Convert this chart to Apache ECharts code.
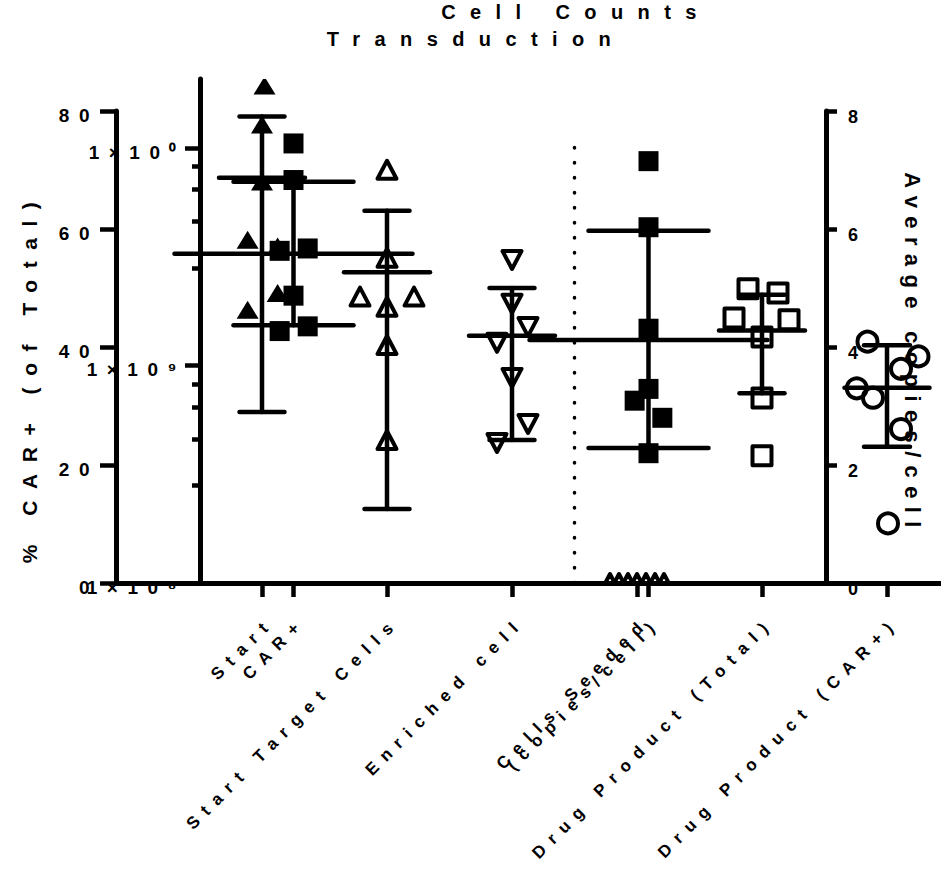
<!DOCTYPE html>
<html>
<head>
<meta charset="utf-8">
<title>Cell Counts / Transduction</title>
<script src="https://cdn.jsdelivr.net/npm/echarts@6.0.0/dist/echarts.min.js"></script>
<style>
  html, body { margin: 0; padding: 0; background: #fff; }
  #chart { width: 941px; height: 874px; }
  /* wide tracking on every label, as in the exported figure */
  #chart text { letter-spacing: 0.5em; }
  #chart text[style*="20px"] { letter-spacing: 0.72em; }
  #chart text[style*="21px"] { letter-spacing: 0.55em; }
  #chart text[style*="22px"] { letter-spacing: 0.38em; }
</style>
</head>
<body>
<div id="chart"></div>
<script>
// ---- categories ----
const stageLabels = ['Start', 'Start Target Cells', 'Enriched cell', 'Cells Seeded', 'Drug Product (Total)', 'Drug Product (CAR+)'];
const transLabels = ['CAR+', '(copies/cell)'];

// ---- axis ticks ----
const countTickValues = [1e8, 1e9, 1e10];
const countTickLabels = ['1×10⁸', '1×10⁹', '1×10⁰'];
const countMinorTicks = [2.8e8, 4.6e8, 6.45e8, 8.2e8, 2.8e9, 4.6e9, 6.45e9, 8.2e9];

// ---- cell counts (cells) ----
const startCounts    = [1.93e10, 1.28e10, 7.0e9, 3.78e9, 3.52e9, 2.15e9, 1.80e9];
const startSpread    = [0.02, 0, 0, -0.115, 0.125, 0.125, -0.115];
const targetCounts   = [7.92e9, 3.12e9, 2.07e9, 1.86e9, 2.07e9, 1.24e9, 4.54e8];
const targetSpread   = [0, 0, -0.216, 0, 0.216, 0, 0];
const enrichedCounts = [3.05e9, 1.92e9, 1.50e9, 1.27e9, 8.76e8, 5.38e8, 4.40e8];
const enrichedSpread = [0, 0, 0.128, -0.12, 0, 0.128, -0.12];
const seededCarPct   = [0, 0, 0, 0, 0, 0, 0];
const seededSpread   = [-0.216, -0.144, -0.072, 0, 0.072, 0.144, 0.216];
const productCounts  = [2.25e9, 2.15e9, 1.65e9, 1.62e9, 1.35e9, 7.09e8, 3.84e8];
const productSpread  = [-0.112, 0.128, -0.224, 0.216, 0, 0, 0];

// mean and SD limits per stage (null where no bar is drawn)
const countMean = [7.28e9, 2.68e9, 1.37e9, null, 1.445e9];
const countLow  = [6.1e8, 2.19e8, 4.54e8, null, 7.45e8];
const countHigh = [1.393e10, 5.13e9, 2.265e9, null, 2.11e9];

// ---- vector copies per cell, drug product ----
const copiesPerCell = [4.09, 3.84, 3.63, 3.30, 3.14, 2.61, 1.01];
const copiesSpread  = [-0.156, 0.252, 0.112, -0.242, -0.112, 0.112, 0.008];
const copiesMid = [3.31], copiesLow = [2.31], copiesHigh = [4.03];

// ---- transduction, % CAR+ ----
const carStartPct   = [74.5, 68.3, 56.3, 56.7, 48.7, 42.7, 43.5];
const carStartSpread = [0, 0, -0.039, 0.04, 0, -0.039, 0.04];
const carSeededPct  = [71.5, 60.3, 43.1, 32.9, 30.9, 28.0, 22.0];
const carSeededSpread = [0, 0, 0, 0, -0.039, 0.039, 0];
const carMean = [55.8, 41.2];
const carLow  = [43.7, 22.9];
const carHigh = [68.0, 59.7];

// ---- styling / layout ----
const FONT = "'Liberation Sans', Arial, sans-serif";
const INK = '#000';
const BASE_BOTTOM = 291;            // shared baseline, measured from the bottom edge
const TRANS_TOP = 111, COUNT_TOP = 79;
const FULL_H = 874;
const transH = FULL_H - BASE_BOTTOM - TRANS_TOP;
const countH = FULL_H - BASE_BOTTOM - COUNT_TOP;

function marker(kind, x, y) {
  const solid = { fill: INK, stroke: null };
  const open = { fill: 'none', stroke: INK, lineWidth: 4, lineJoin: 'round' };
  switch (kind) {
    case 'triFill':
      return { type: 'polygon', shape: { points: [[x, y - 9], [x + 11, y + 9], [x - 11, y + 9]] }, style: solid };
    case 'triOpen':
      return { type: 'polygon', shape: { points: [[x, y - 9], [x + 9.5, y + 9], [x - 9.5, y + 9]] }, style: open };
    case 'triDownOpen':
      return { type: 'polygon', shape: { points: [[x, y + 9], [x + 9.5, y - 9], [x - 9.5, y - 9]] }, style: open };
    case 'squareFill':
      return { type: 'rect', shape: { x: x - 10, y: y - 10, width: 20, height: 20 }, style: solid };
    case 'squareOpen':
      return { type: 'rect', shape: { x: x - 9.5, y: y - 9.5, width: 19, height: 19 }, style: open };
    default:
      return { type: 'circle', shape: { cx: x, cy: y, r: 10 }, style: open };
  }
}

function pointSeries(name, kind, xAxisIndex, yAxisIndex, cat, values, spread) {
  return {
    name, type: 'custom', xAxisIndex, yAxisIndex, clip: true, z: 3,
    data: values.map((v, i) => [cat + spread[i], v]),
    renderItem(params, api) {
      const p = api.coord([api.value(0), api.value(1)]);
      return marker(kind, p[0], p[1]);
    }
  };
}

function errorBarSeries(name, xAxisIndex, yAxisIndex, rows, capHalf, meanHalf) {
  const seg = (x1, y1, x2, y2) => ({
    type: 'line', shape: { x1, y1, x2, y2 },
    style: { stroke: INK, lineWidth: 4.5, lineCap: 'round' }
  });
  return {
    name, type: 'custom', xAxisIndex, yAxisIndex, clip: true, z: 4,
    data: rows,
    renderItem(params, api) {
      const x = api.value(0);
      const m = api.coord([x, api.value(1)]);
      const lo = api.coord([x, api.value(2)]);
      const hi = api.coord([x, api.value(3)]);
      return {
        type: 'group',
        children: [
          seg(lo[0], lo[1], hi[0], hi[1]),
          seg(lo[0] - capHalf, lo[1], lo[0] + capHalf, lo[1]),
          seg(hi[0] - capHalf, hi[1], hi[0] + capHalf, hi[1]),
          seg(m[0] - meanHalf, m[1], m[0] + meanHalf, m[1])
        ]
      };
    }
  };
}

const countRows = countMean
  .map((m, i) => [i, m, countLow[i], countHigh[i]])
  .filter(r => r[1] != null);
const copiesRows = copiesMid.map((m, i) => [5, m, copiesLow[i], copiesHigh[i]]);
const carRows = carMean.map((m, i) => [i, m, carLow[i], carHigh[i]]);

const axisLine = { show: true, onZero: false, lineStyle: { color: INK, width: 5 } };
const tickStyle = { color: INK, width: 4.5 };
const numLabel = { color: INK, fontFamily: FONT, fontWeight: 'bold', fontSize: 19, verticalAlign: 'top' };
const catLabel = {
  color: INK, fontFamily: FONT, fontWeight: 'bold', fontSize: 17,
  rotate: 45, margin: 46, padding: [0, -13, 0, 0]
};

const chart = echarts.init(document.getElementById('chart'), null, { renderer: 'svg' });

chart.setOption({
  backgroundColor: '#fff',
  animation: false,
  grid: [
    // transduction panel: % CAR+ on the left, copies/cell on the right
    { left: 116, right: 115, top: TRANS_TOP, bottom: BASE_BOTTOM },
    // cell count panel: log axis
    { left: 200, right: 0, top: COUNT_TOP, bottom: BASE_BOTTOM }
  ],
  xAxis: [
    {
      gridIndex: 0, type: 'value', min: -0.5, max: 1.5,
      axisLine, splitLine: { show: false },
      axisTick: { show: true, length: 14, lineStyle: tickStyle, customValues: [0, 1] },
      axisLabel: Object.assign({ customValues: [0, 1], formatter: v => transLabels[Math.round(v)] }, catLabel)
    },
    {
      gridIndex: 1, type: 'value', min: -0.496, max: 5.432,
      axisLine, splitLine: { show: false },
      axisTick: { show: true, length: 14, lineStyle: tickStyle, customValues: [0, 1, 2, 3, 4, 5] },
      axisLabel: Object.assign({ customValues: [0, 1, 2, 3, 4, 5], formatter: v => stageLabels[Math.round(v)] }, catLabel)
    }
  ],
  yAxis: [
    {
      gridIndex: 0, type: 'value', position: 'left', min: 0, max: 80, interval: 20,
      axisLine, splitLine: { show: false },
      axisTick: { show: true, length: 16, lineStyle: tickStyle },
      axisLabel: Object.assign({ margin: 17 }, numLabel, { padding: [-5, 0, 0, 0] })
    },
    {
      gridIndex: 0, type: 'value', position: 'right', min: 0, max: 8, interval: 2,
      axisLine, splitLine: { show: false },
      axisTick: { show: true, length: 11, lineStyle: tickStyle },
      axisLabel: Object.assign({ margin: 22 }, numLabel, { fontSize: 18, padding: [-3, 0, 0, 0] })
    },
    {
      gridIndex: 1, type: 'log', logBase: 10, position: 'left', min: 1e8, max: 2.07e10,
      axisLine, splitLine: { show: false }, minorTick: { show: false },
      axisTick: { show: true, length: 15, lineStyle: tickStyle, customValues: countTickValues },
      axisLabel: Object.assign({
        margin: 14, customValues: countTickValues,
        formatter: v => countTickLabels[countTickValues.findIndex(t => Math.abs(Math.log10(t / v)) < 1e-6)]
      }, numLabel, { padding: [-5, 0, 0, 0] })
    },
    {
      gridIndex: 1, type: 'log', logBase: 10, position: 'left', min: 1e8, max: 2.07e10,
      axisLine: { show: false, onZero: false }, splitLine: { show: false }, axisLabel: { show: false },
      axisTick: { show: true, length: 8, lineStyle: tickStyle, customValues: countMinorTicks }
    },
    // copies/cell scale carried over to the taller count panel
    { gridIndex: 1, type: 'value', show: false, min: 0, max: 8 * countH / transH },
    // % CAR+ scale carried over to the taller count panel
    { gridIndex: 1, type: 'value', show: false, min: 0, max: 80 * countH / transH }
  ],
  graphic: [
    { type: 'text', x: 576, y: 12, style: { text: 'Cell Counts', fontFamily: FONT, fontWeight: 'bold', fontSize: 20, fill: INK, align: 'center', verticalAlign: 'middle' } },
    { type: 'text', x: 476, y: 39, style: { text: 'Transduction', fontFamily: FONT, fontWeight: 'bold', fontSize: 20, fill: INK, align: 'center', verticalAlign: 'middle' } },
    { type: 'text', x: 29, y: 377, rotation: Math.PI / 2, style: { text: '% CAR+ (of Total)', fontFamily: FONT, fontWeight: 'bold', fontSize: 21, fill: INK, align: 'center', verticalAlign: 'middle' } },
    { type: 'text', x: 912, y: 354, rotation: -Math.PI / 2, style: { text: 'Average copies/cell', fontFamily: FONT, fontWeight: 'bold', fontSize: 22, fill: INK, align: 'center', verticalAlign: 'middle' } }
  ],
  series: [
    // divider between the pre- and post-seeding stages
    {
      name: 'divider', type: 'custom', xAxisIndex: 1, yAxisIndex: 2, z: 2,
      data: [[2.5, 1e8, 1.05e10]],
      renderItem(params, api) {
        const a = api.coord([api.value(0), api.value(1)]);
        const b = api.coord([api.value(0), api.value(2)]);
        return { type: 'line', shape: { x1: a[0], y1: a[1], x2: b[0], y2: b[1] },
          style: { stroke: INK, lineWidth: 3.5, lineCap: 'round', lineDash: [0.5, 14.5] } };
      }
    },
    pointSeries('Start', 'triFill', 1, 2, 0, startCounts, startSpread),
    pointSeries('Start Target Cells', 'triOpen', 1, 2, 1, targetCounts, targetSpread),
    pointSeries('Enriched cell', 'triDownOpen', 1, 2, 2, enrichedCounts, enrichedSpread),
    pointSeries('Cells Seeded', 'triOpen', 1, 5, 3, seededCarPct, seededSpread),
    pointSeries('Drug Product (Total)', 'squareOpen', 1, 2, 4, productCounts, productSpread),
    pointSeries('Drug Product (CAR+)', 'circleOpen', 1, 4, 5, copiesPerCell, copiesSpread),
    pointSeries('CAR+ start', 'squareFill', 0, 0, 0, carStartPct, carStartSpread),
    pointSeries('CAR+ seeded', 'squareFill', 0, 0, 1, carSeededPct, carSeededSpread),
    errorBarSeries('count mean ± SD', 1, 2, countRows, 22.5, 43),
    errorBarSeries('copies mean ± SD', 1, 4, copiesRows, 23, 42.5),
    errorBarSeries('CAR+ mean ± SD', 0, 0, carRows, 60, 119)
  ]
});
</script>
</body>
</html>
